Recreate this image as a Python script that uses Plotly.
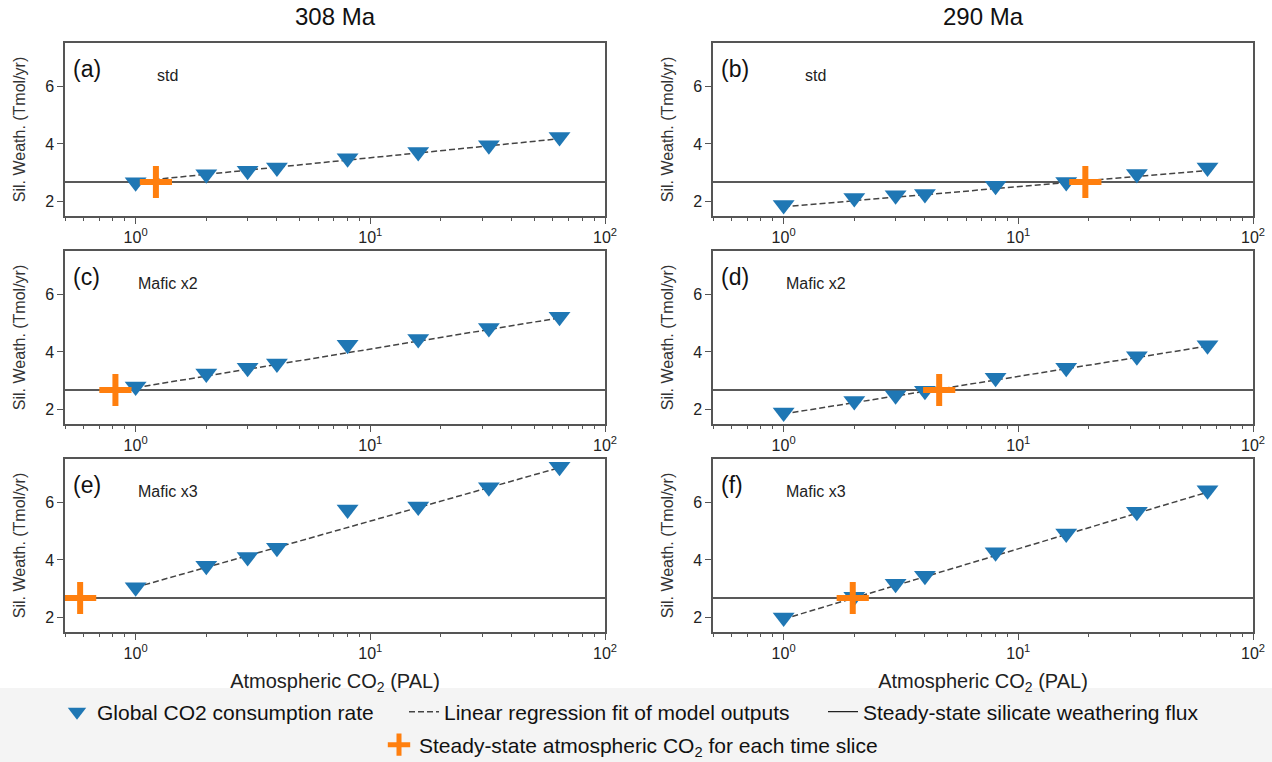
import plotly.graph_objects as go
import math

# ---------------- data ----------------
co2 = [1, 2, 3, 4, 8, 16, 32, 64]

sw_308_std = [2.67, 2.95, 3.07, 3.18, 3.50, 3.72, 3.95, 4.24]
sw_290_std = [1.88, 2.12, 2.22, 2.26, 2.55, 2.68, 2.96, 3.18]
sw_308_m2 = [2.80, 3.25, 3.45, 3.60, 4.25, 4.45, 4.83, 5.22]
sw_290_m2 = [1.90, 2.30, 2.50, 2.65, 3.10, 3.45, 3.85, 4.23]
sw_308_m3 = [3.05, 3.80, 4.10, 4.42, 5.75, 5.85, 6.52, 7.23]
sw_290_m3 = [2.00, 2.72, 3.17, 3.45, 4.27, 4.92, 5.67, 6.42]

fit_x = [1, 64]
fit_308_std = [2.70, 4.18]
fit_290_std = [1.82, 3.08]
fit_308_m2 = [2.76, 5.18]
fit_290_m2 = [1.85, 4.20]
fit_308_m3 = [3.05, 7.20]
fit_290_m3 = [1.95, 6.35]

steady_flux = 2.68
ss_co2_308 = [1.22, 0.82, 0.58]
ss_co2_290 = [19.3, 4.6, 1.97]

panel_labels = ["(a)", "(b)", "(c)", "(d)", "(e)", "(f)"]
case_labels = ["std", "std", "Mafic x2", "Mafic x2", "Mafic x3", "Mafic x3"]
col_titles = ["308 Ma", "290 Ma"]

x_limits = [0.5, 100]
y_limits = [1.5, 7.5]
major_ticks = [1, 10, 100]
major_text = ["10<sup>0</sup>", "10<sup>1</sup>", "10<sup>2</sup>"]
minor_ticks = [0.5, 0.6, 0.7, 0.8, 0.9, 2, 3, 4, 5, 6, 7, 8, 9, 20, 30, 40, 50, 60, 70, 80, 90]
y_ticks = [2, 4, 6]

# ---------------- layout geometry ----------------
W, H = 1272, 762
FONT = "Liberation Sans Narrow, Arial Narrow, Liberation Sans, Arial, sans-serif"
col_px = [(65, 605), (713, 1253)]
row_px = [(43, 216), (251, 424), (459, 632)]
BLUE = "#1f77b4"
ORANGE = "#ff7f0e"
SPINE = "#555555"

series = [
    (sw_308_std, fit_308_std, ss_co2_308[0]),
    (sw_290_std, fit_290_std, ss_co2_290[0]),
    (sw_308_m2, fit_308_m2, ss_co2_308[1]),
    (sw_290_m2, fit_290_m2, ss_co2_290[1]),
    (sw_308_m3, fit_308_m3, ss_co2_308[2]),
    (sw_290_m3, fit_290_m3, ss_co2_290[2]),
]

fig = go.Figure()
layout = dict(
    autosize=True, margin=dict(l=0, r=0, t=0, b=0, autoexpand=False),
    paper_bgcolor="white", plot_bgcolor="white",
    font=dict(family=FONT, color="#222222", size=16),
    showlegend=True,
)
annotations = []

for i, (sw, fit, ssx) in enumerate(series):
    r, c = divmod(i, 2)
    n = i + 1
    xa = "x" if n == 1 else f"x{n}"
    ya = "y" if n == 1 else f"y{n}"
    first = (i == 0)
    # steady-state flux line
    fig.add_trace(go.Scatter(
        x=x_limits, y=[steady_flux, steady_flux], mode="lines",
        line=dict(color="#222222", width=1.3), xaxis=xa, yaxis=ya,
        name="Steady-state silicate weathering flux", legend="legend3",
        showlegend=first, hoverinfo="skip"))
    # regression fit
    fig.add_trace(go.Scatter(
        x=fit_x, y=fit, mode="lines",
        line=dict(color="#444444", width=1.5, dash="6px,3px"), xaxis=xa, yaxis=ya,
        name="Linear regression fit of model outputs", legend="legend2",
        showlegend=first))
    # model outputs
    fig.add_trace(go.Scatter(
        x=co2, y=sw, mode="markers",
        marker=dict(symbol="triangle-down", size=19, color=BLUE, line=dict(width=0)),
        xaxis=xa, yaxis=ya, name="Global CO2 consumption rate", legend="legend",
        showlegend=first))
    # steady-state CO2
    fig.add_trace(go.Scatter(
        x=[ssx], y=[steady_flux], mode="markers",
        marker=dict(symbol="cross-thin", size=23, color=ORANGE,
                    line=dict(width=6, color=ORANGE)),
        xaxis=xa, yaxis=ya,
        name="Steady-state atmospheric CO<sub>2</sub> for each time slice",
        legend="legend4", showlegend=first))

    x0, x1 = col_px[c]
    y0, y1 = row_px[r]
    xdom = [x0 / W, x1 / W]
    ydom = [1 - y1 / H, 1 - y0 / H]
    xkey = "xaxis" if n == 1 else f"xaxis{n}"
    ykey = "yaxis" if n == 1 else f"yaxis{n}"
    xaxis = dict(
        domain=xdom, anchor=ya, type="log",
        range=[math.log10(x_limits[0]), math.log10(x_limits[1])],
        tickmode="array", tickvals=major_ticks, ticktext=major_text,
        ticks="outside", ticklen=6, tickwidth=1.2, tickcolor=SPINE,
        showline=True, linecolor=SPINE, linewidth=1.5, mirror=True,
        showgrid=False, zeroline=False,
        tickfont=dict(size=16, family=FONT, color="#222222"),
        minor=dict(tickmode="array", tickvals=minor_ticks, ticks="outside",
                   ticklen=3.5, tickwidth=1, tickcolor=SPINE, showgrid=False),
    )
    if r == 2:
        xaxis["title"] = dict(text="Atmospheric CO<sub>2</sub> (PAL)",
                              font=dict(size=20, family=FONT, color="#222222"),
                              standoff=13)
    yaxis = dict(
        domain=ydom, anchor=xa, range=y_limits,
        tickmode="array", tickvals=y_ticks,
        ticks="outside", ticklen=6, tickwidth=1.2, tickcolor=SPINE,
        showline=True, linecolor=SPINE, linewidth=1.5, mirror=True,
        showgrid=False, zeroline=False,
        tickfont=dict(size=16, family=FONT, color="#222222"),
        title=dict(text="Sil. Weath. (Tmol/yr)",
                   font=dict(size=16, family=FONT, color="#333333"), standoff=16),
    )
    layout[xkey] = xaxis
    layout[ykey] = yaxis

    annotations.append(dict(
        text=panel_labels[i], xref=f"{xa} domain", yref=f"{ya} domain",
        x=0.012, y=0.85, xanchor="left", yanchor="middle", showarrow=False,
        font=dict(size=23, family=FONT, color="#111111")))
    annotations.append(dict(
        text=case_labels[i], xref=f"{xa} domain", yref=f"{ya} domain",
        x=0.19, y=0.81, xanchor="center", yanchor="middle", showarrow=False,
        font=dict(size=16, family=FONT, color="#222222")))

for c, t in enumerate(col_titles):
    x0, x1 = col_px[c]
    annotations.append(dict(
        text=t, xref="paper", yref="paper", x=(x0 + x1) / 2 / W, y=1 - 16 / H,
        xanchor="center", yanchor="middle", showarrow=False,
        font=dict(size=24, family=FONT, color="#111111")))

layout["annotations"] = annotations

# light grey band behind the legend
layout["shapes"] = [dict(type="rect", xref="paper", yref="paper",
                         x0=0, x1=1, y0=0, y1=(H - 688) / H,
                         fillcolor="#f4f4f4", line=dict(width=0), layer="below")]

leg_font = dict(size=21, family=FONT, color="#111111")
def leg(xpx, ypx):
    return dict(x=xpx / W, y=1 - ypx / H, xanchor="left", yanchor="middle",
                orientation="h", bgcolor="rgba(0,0,0,0)", borderwidth=0,
                font=leg_font, itemsizing="trace", tracegroupgap=0)

layout["legend"] = leg(57, 712)
layout["legend2"] = leg(404, 712)
layout["legend3"] = leg(823, 712)
layout["legend4"] = leg(379, 745)

fig.update_layout(**layout)
fig.write_html(
    "out.html",
    default_width="100vw",
    default_height="100vh",
    config={"displayModeBar": False, "responsive": True},
    post_script=(
        "document.documentElement.style.margin='0';"
        "document.documentElement.style.overflow='hidden';"
        "document.body.style.margin='0';"
        "document.body.style.overflow='hidden';"
        "Plotly.Plots.resize(document.getElementById('{plot_id}'));"
    ),
)
